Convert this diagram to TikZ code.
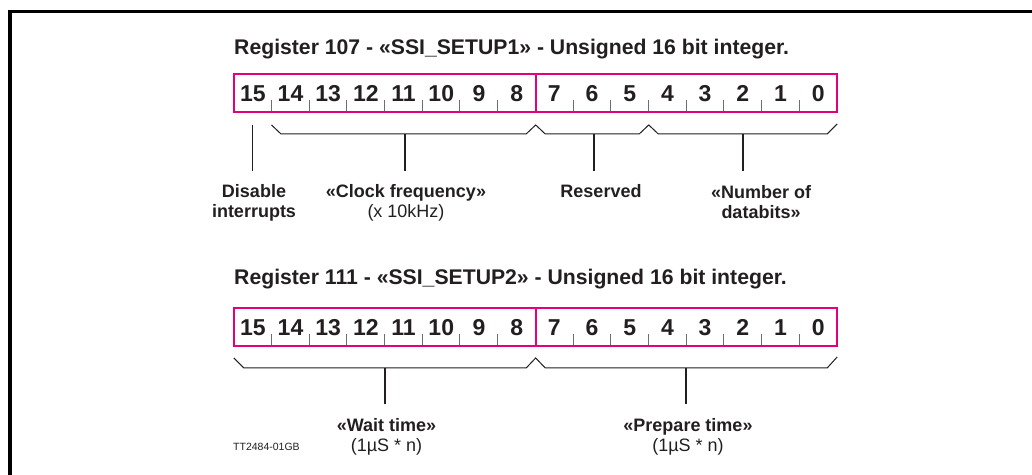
\documentclass[tikz,border=0pt]{standalone}
\usepackage{fontspec}
\setmainfont{Liberation Sans}
\usetikzlibrary{calc}
\definecolor{pinkc}{RGB}{228,0,122}
\definecolor{txt}{RGB}{35,31,32}
\definecolor{tickc}{RGB}{110,110,110}
\begin{document}
\begin{tikzpicture}[x=1pt,y=-1pt,
  bitnum/.style={font=\fontsize{23}{23}\selectfont\bfseries, text=txt, minimum width=37.6875pt, minimum height=37.5pt, text height=17pt, text depth=0pt, inner sep=0pt, anchor=center},
  regtitle/.style={font=\fontsize{21.2}{24}\selectfont\bfseries, text=txt, anchor=west, inner sep=0pt},
  lbl/.style={font=\fontsize{18}{20}\selectfont, text=txt, align=center, inner sep=0pt},
  regbox/.style={draw=pinkc, line width=2.2pt},
  tickline/.style={draw=tickc, line width=0.9pt},
  braceline/.style={draw=txt, line width=1pt, line join=miter},
  leadline/.style={draw=txt, line width=1.2pt},
  frameline/.style={draw=black, line width=3.5pt}
]
\useasboundingbox (0,0) rectangle (1032,474);
% frame
\draw[frameline] (10,480) -- (10,11.5) -- (1040,11.5);

% titles
\node[regtitle] (t1) at (234,49) {Register 107 - «SSI\_SETUP1» - Unsigned 16 bit integer.};
\node[regtitle] (t2) at (234,279) {Register 111 - «SSI\_SETUP2» - Unsigned 16 bit integer.};

% bit cells
\foreach \i in {0,...,15} {
  \pgfmathsetmacro\cx{234+(\i+0.5)*37.6875}
  \pgfmathtruncatemacro\b{15-\i}
  \node[bitnum] (a\b) at (\cx,93) {\b};
  \node[bitnum] (c\b) at (\cx,327) {\b};
}
% ticks
\foreach \b in {14,13,12,11,10,9,8,6,5,4,3,2,1,0} {
  \draw[tickline] (a\b.south west) -- ++(0,-12);
  \draw[tickline] (c\b.south west) -- ++(0,-12);
}
% boxes
\draw[regbox] (a15.north west) rectangle (a0.south east);
\draw[regbox] (a8.north east) -- (a8.south east);
\draw[regbox] (c15.north west) rectangle (c0.south east);
\draw[regbox] (c8.north east) -- (c8.south east);

% braces register 1
\draw[braceline] ($(a14.south west)+(0,13)$) -- ++(9.5,9) -- ($(a8.south east)+(-9.5,22)$) -- ($(a8.south east)+(0,13)$)
  -- ++(9.5,9) -- ($(a5.south east)+(-9.5,22)$) -- ($(a5.south east)+(0,13)$) -- ++(9.5,9)
  -- ($(a0.south east)+(-10,22)$) -- ($(a0.south east)+(0,12)$);
% braces register 2
\draw[braceline] ($(c15.south west)+(0,12)$) -- ++(10,10) -- ($(c8.south east)+(-9.5,22)$) -- ($(c8.south east)+(0,12)$)
  -- ++(9.5,10) -- ($(c0.south east)+(-10,22)$) -- ($(c0.south east)+(0,11)$);

% labels
\node[lbl] (l1) at (254,202.5) {\bfseries Disable\\\bfseries interrupts};
\node[lbl] (l2) at (406,202.5) {\bfseries «Clock frequency»\\(x 10kHz)};
\node[lbl] (l3) at (601,191) {\bfseries Reserved};
\node[lbl] (l4) at (761,202.5) {\bfseries «Number of\\\bfseries databits»};
\node[lbl] (l5) at (386.5,436.5) {\bfseries «Wait time»\\(1µS * n)};
\node[lbl] (l6) at (688,436.5) {\bfseries «Prepare time»\\(1µS * n)};
\node[font=\fontsize{10.5}{12}\selectfont, text=txt, anchor=west, inner sep=0pt] (id) at (233,447) {TT2484-01GB};

% leader lines
\coordinate (p1) at ($(a15.south)+(0,13)$);
\coordinate (q1) at ($(a15.south)+(0,59)$);
\coordinate (p2) at (405,134);
\coordinate (q2) at (405,171);
\coordinate (p3) at (594,134);
\coordinate (q3) at (594,171);
\coordinate (p4) at (743,134);
\coordinate (q4) at (743,171);
\coordinate (p5) at (385,368);
\coordinate (q5) at (385,404);
\coordinate (p6) at (686,368);
\coordinate (q6) at (686,404);
\foreach \k in {1,...,6} { \draw[leadline] (p\k) -- (q\k); }
\end{tikzpicture}
\end{document}
